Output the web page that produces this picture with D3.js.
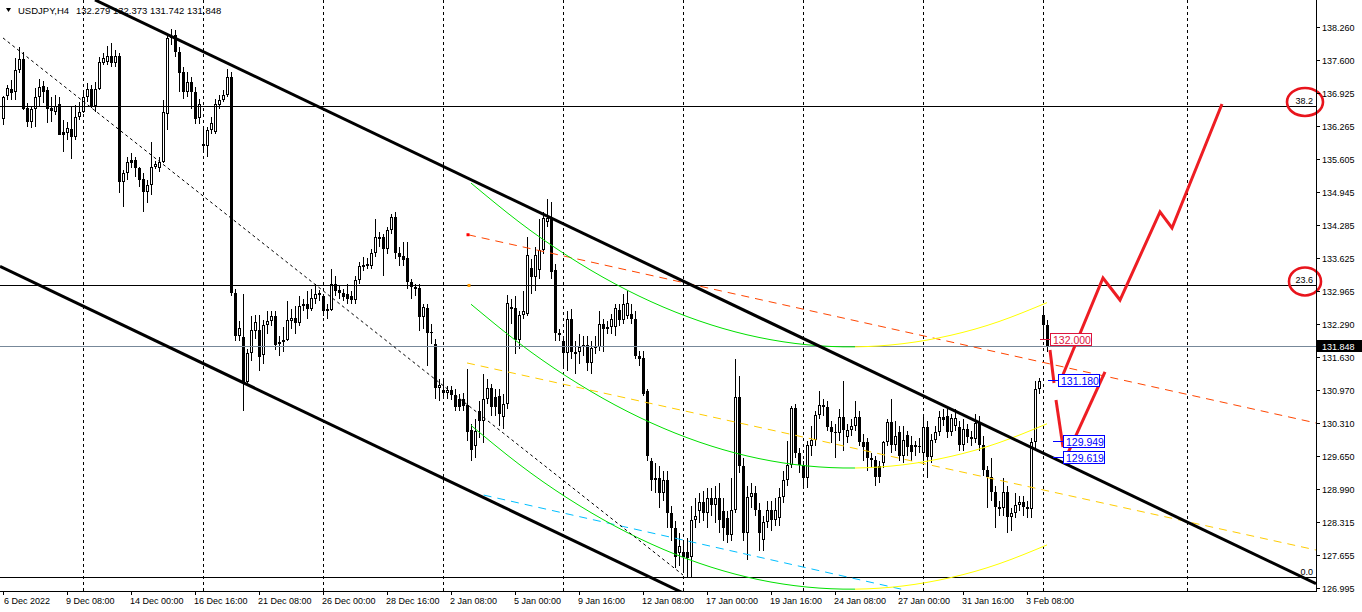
<!DOCTYPE html>
<html><head><meta charset="utf-8">
<script src="https://cdn.jsdelivr.net/npm/d3@7"></script>
<style>
html,body{margin:0;padding:0;background:#fff;}
svg{display:block;}
text{font-family:"Liberation Sans",Arial,sans-serif;}
</style></head><body>
<svg id="c" width="1362" height="612"></svg>
<script>
// ---------------- DATA ----------------
const symbolTitle = "USDJPY,H4";
const firstBarTime = "2022-12-06T16:00:00Z"; // H4 bars, weekends skipped
const open = [136.41,136.87,137.01,136.95,137.39,137.61,136.63,136.35,136.61,136.85,137.07,136.99,136.63,136.55,136.70,136.15,136.13,136.21,136.05,136.45,
136.55,136.85,137.01,136.67,137.01,137.53,137.55,137.67,137.53,137.67,135.15,135.33,135.59,135.59,135.43,135.21,134.95,135.09,135.45,135.43,
135.55,136.50,138.03,138.10,137.75,137.35,136.95,137.15,136.95,136.42,135.90,135.86,136.19,136.15,136.68,136.78,136.90,137.26,132.92,132.05,
132.04,131.14,131.72,132.15,132.18,131.68,132.28,132.35,132.45,131.90,131.93,131.98,132.35,132.42,132.32,132.66,132.70,132.60,132.80,132.88,
132.85,132.55,132.58,133.10,132.98,132.92,132.90,132.86,132.78,133.18,133.44,133.46,133.46,133.72,134.04,134.04,133.80,134.18,134.45,133.72,
133.66,133.62,133.14,133.04,133.02,132.44,132.62,132.12,131.90,131.02,130.97,130.92,130.97,130.88,130.80,130.80,130.67,130.17,129.85,130.55,
130.35,130.80,131.01,130.83,130.85,130.43,130.70,132.60,132.62,131.98,132.48,132.50,133.42,133.24,133.38,133.78,134.35,134.42,133.38,132.12,
131.95,131.72,132.40,131.74,131.74,131.84,131.88,131.52,131.82,131.84,132.30,132.20,132.24,132.24,132.58,132.38,132.45,132.50,132.40,131.65,
131.62,130.95,129.55,129.20,129.20,128.90,129.17,128.51,128.21,127.70,127.73,127.72,127.62,128.37,128.55,128.72,128.51,128.80,128.66,128.80,
128.55,128.40,128.07,128.57,130.83,129.45,128.10,128.83,128.90,128.56,127.96,128.33,128.56,128.37,128.40,128.83,129.17,129.47,130.61,129.71,
129.47,129.21,129.85,129.97,130.47,130.67,130.64,130.23,130.13,130.11,130.43,130.03,130.17,130.25,130.43,129.93,129.93,129.60,129.57,129.45,
129.50,129.93,130.33,129.87,130.13,129.65,130.07,129.87,129.87,129.83,129.70,130.23,129.63,129.97,130.13,130.43,130.45,130.13,130.25,130.23,
129.87,130.20,130.03,129.99,130.31,129.87,129.37,129.23,128.93,128.62,128.60,128.93,128.43,128.51,128.66,128.72,128.62,128.58,129.93,131.00,
132.48,132.279];
const high = [136.87,137.09,137.19,137.63,137.85,137.75,136.73,136.65,137.03,137.21,137.17,137.05,136.85,136.89,136.85,136.39,136.35,136.65,136.69,136.75,
136.95,137.13,137.09,137.15,137.65,137.73,137.87,137.93,137.79,137.73,135.39,135.65,135.73,135.65,135.45,135.33,135.19,135.95,135.57,135.65,
136.79,138.09,138.22,138.20,137.85,137.45,137.35,137.25,137.05,136.80,136.20,136.25,136.45,136.80,136.90,137.00,137.42,137.35,133.00,132.35,
132.90,131.80,132.45,132.48,132.48,132.38,132.55,132.55,132.55,132.05,132.24,132.75,132.60,132.65,132.85,132.80,132.95,133.00,133.10,132.98,
132.90,132.70,133.40,133.25,133.05,133.00,133.10,132.95,133.25,133.55,133.65,133.62,133.80,134.40,134.15,134.10,134.25,134.50,134.55,133.85,
133.95,133.95,133.20,133.10,133.10,132.70,132.70,132.30,132.00,131.20,131.20,131.05,131.05,131.00,130.90,130.92,131.40,130.30,130.40,130.75,
131.30,131.20,131.10,131.00,131.00,130.90,132.88,132.80,132.85,132.55,132.95,134.05,133.60,133.85,134.40,134.55,134.80,134.75,133.50,132.20,
132.05,132.55,132.60,131.95,132.10,132.05,132.05,131.95,132.05,132.55,132.40,132.35,132.50,132.70,132.70,132.90,132.95,132.70,132.55,131.75,
131.75,131.00,129.60,129.50,129.45,129.35,129.35,128.65,128.35,128.10,127.95,128.00,128.65,128.80,128.90,128.95,129.00,129.00,129.05,129.10,
128.80,128.55,129.20,131.60,131.25,129.60,129.05,129.10,129.05,128.70,128.45,128.75,128.75,128.80,129.00,129.35,129.95,130.65,130.70,129.80,
129.55,129.95,130.25,130.55,130.95,130.80,130.75,130.35,130.30,130.60,131.15,130.30,130.40,130.75,130.55,130.10,130.00,129.70,129.65,129.55,
129.95,130.40,130.80,130.35,130.25,130.25,130.15,130.05,129.95,130.00,130.45,130.35,130.10,130.25,130.55,130.60,130.60,130.50,130.60,130.35,
130.40,130.30,130.15,130.50,130.45,130.05,129.45,129.60,129.05,128.75,129.20,129.05,128.60,128.90,128.85,128.85,128.75,130.00,131.15,131.22,
132.62,132.373];
const low = [136.29,136.79,136.79,136.79,137.33,136.59,136.25,136.23,136.25,136.65,136.73,136.33,136.35,136.49,136.09,135.75,135.99,135.61,135.99,136.39,
136.53,136.75,136.63,136.55,136.99,137.49,137.49,137.45,137.45,134.93,134.65,135.19,135.43,135.25,135.05,134.55,134.73,134.89,135.41,135.35,
135.53,136.19,137.90,137.65,136.95,136.80,136.85,136.60,136.30,136.30,135.75,135.65,136.10,136.10,136.60,136.75,136.85,132.85,131.95,131.95,
130.55,131.10,131.55,132.00,131.35,131.50,132.10,132.25,131.78,131.65,131.74,131.95,132.20,132.10,132.25,132.55,132.40,132.55,132.70,132.75,
132.45,132.40,132.55,132.85,132.80,132.75,132.70,132.70,132.70,133.10,133.35,133.40,133.40,133.65,133.85,133.25,133.70,134.10,133.60,133.45,
133.45,133.00,132.80,132.85,132.15,132.20,131.45,131.90,130.80,130.75,130.80,130.80,130.78,130.55,130.55,130.55,129.95,129.55,129.60,130.00,
129.90,130.70,130.45,130.45,130.25,130.20,130.60,132.30,131.70,131.80,132.40,132.45,132.90,132.95,133.20,133.70,134.25,133.20,131.95,131.95,
131.40,131.35,131.60,131.30,131.50,131.65,131.35,131.30,131.70,131.75,131.74,132.10,132.10,132.05,132.25,132.30,132.40,132.30,131.60,131.45,
130.85,129.55,128.95,128.90,128.60,128.75,128.20,127.95,127.40,127.45,127.35,127.20,127.20,128.20,128.30,128.35,128.20,128.45,128.30,128.10,
127.95,127.90,127.95,128.50,129.30,127.95,127.56,128.60,128.45,127.75,127.75,128.20,128.15,128.25,128.25,128.70,129.05,129.40,129.60,129.30,
129.00,129.00,129.65,129.85,130.40,130.45,130.15,129.90,129.60,129.95,129.75,129.90,130.05,130.15,129.85,129.55,129.35,129.40,129.05,129.10,
129.40,129.85,129.70,129.75,129.55,129.50,129.65,129.55,129.65,129.70,129.55,129.20,129.50,129.90,130.05,130.25,130.00,130.05,130.15,129.75,
129.75,129.90,129.85,129.90,129.75,129.25,128.60,128.75,128.20,128.45,128.45,128.10,128.15,128.40,128.55,128.45,128.40,128.40,129.80,130.90,
131.98,131.742];
const close = [136.85,137.03,136.93,137.39,137.61,136.61,136.35,136.61,136.85,137.05,136.95,136.61,136.57,136.67,136.09,136.09,136.23,136.05,136.45,136.55,
136.85,137.01,136.65,137.01,137.55,137.63,137.67,137.53,137.67,135.15,135.33,135.55,135.53,135.43,135.19,134.95,135.09,135.45,135.51,135.55,
136.55,138.03,138.08,137.75,137.33,136.95,137.15,136.95,136.40,136.70,135.86,136.19,136.33,136.70,136.79,136.90,137.26,132.92,132.06,132.22,
131.14,131.72,132.18,132.33,131.64,132.28,132.35,132.45,131.87,131.94,131.98,132.38,132.42,132.32,132.66,132.70,132.60,132.82,132.90,132.92,
132.55,132.60,133.10,132.96,132.92,132.84,132.80,132.78,133.18,133.46,133.48,133.50,133.72,134.04,134.00,133.80,134.18,134.45,133.72,133.64,
133.58,133.14,133.04,133.00,132.44,132.64,132.12,132.14,131.02,131.08,130.92,130.97,130.88,130.64,130.64,130.66,130.13,129.77,130.15,130.35,
130.80,131.01,130.63,130.63,130.50,130.70,132.72,132.64,131.98,132.48,132.55,133.68,133.24,133.68,133.78,134.42,134.42,133.34,132.12,132.08,
131.72,132.40,131.74,131.70,131.84,131.88,131.52,131.82,131.86,132.30,132.20,132.24,132.40,132.62,132.38,132.70,132.72,132.40,131.65,131.60,
130.90,129.65,129.17,129.17,128.90,129.17,128.51,128.21,127.62,127.85,127.62,127.60,128.37,128.45,128.72,128.51,128.80,128.66,128.80,128.37,
128.21,128.07,128.57,130.83,129.45,128.10,128.83,128.90,128.56,128.10,128.33,128.56,128.37,128.56,128.83,129.17,129.47,130.61,129.71,129.47,
129.21,129.87,129.97,130.47,130.67,130.64,130.23,130.13,130.11,130.43,130.17,130.17,130.25,130.43,129.93,129.83,129.60,129.57,129.23,129.23,
129.93,130.33,129.87,130.05,129.65,129.97,129.83,129.73,129.83,129.85,130.23,129.63,129.97,130.13,130.43,130.38,130.13,130.41,130.41,129.87,
130.20,130.03,129.99,130.31,129.87,129.37,129.23,128.93,128.62,128.58,128.93,128.43,128.51,128.66,128.72,128.62,128.58,129.93,131.00,131.16,
132.28,131.848];

const priceTicks = ["138.260","137.600","136.925","136.265","135.605","134.945","134.285","133.625","132.965","132.290","131.630","130.970","130.310","129.650","128.990","128.315","127.655","126.995"];
const timeLabels = ["6 Dec 2022","9 Dec 08:00","14 Dec 00:00","16 Dec 16:00","21 Dec 08:00","26 Dec 00:00","28 Dec 16:00","2 Jan 08:00","5 Jan 00:00","9 Jan 16:00","12 Jan 08:00","17 Jan 00:00","19 Jan 16:00","24 Jan 08:00","27 Jan 00:00","31 Jan 16:00","3 Feb 08:00"];

// Fibonacci levels
const fibLevels = ["0.0","23.6","38.2"];
const fibPrices = [127.22, 133.07, 136.67];
const circledFib = ["23.6","38.2"];

// trend / channel lines as [bar, price] pairs
const trendUpper = [[23,138.797],[328.25,127.089]];
const trendLower = [[-0.75,133.452],[170.25,126.893]];
const trendThin  = [[0,138.034],[170,127.262]];
// linear regression channel
const regUpper = [[116.25,134.087],[328.25,130.311]];
const regMid   = [[116,131.515],[328.25,127.763]];
const regLower = [[116.75,128.927],[225.5,126.961]];
// polynomial regression channel (middle line) and half-width
const polyMid = [[117,132.693],[129,131.914],[141,131.240],[153,130.672],[165,130.209],[177,129.850],[189,129.597],[201,129.450],[213,129.408],[225,129.472],[237,129.641],[249,129.916],[261,130.295]];
const polyTurnBar = 213;
const polyBand = 2.43;

// hand-drawn forecast strokes [bar, price]
const forecastA = [[261.75,131.775],[262.75,131.113]];
const forecastB = [[264.75,131.234],[275,133.220],[279.25,132.778],[289.25,134.544],[292.25,134.223],[304.75,136.710]];
const forecastC = [[263.25,130.772],[265,129.829]];
const forecastD = [[266.25,129.709],[275.5,131.334]];

// price labels
const priceLabelValues = [132.000, 131.180, 129.949, 129.619];
const priceLabelBars   = [259.25, 261.25, 262.5, 262.5];
const priceLabelColors = ["#dc143c","#0000ff","#0000ff","#0000ff"];

// ---------------- DRAW ----------------
const N = close.length;
const W = 1316, H = 591;
const svg = d3.select("#c");
const x = d3.scaleLinear().domain([0, N-1]).range([3, 3 + 4*(N-1)]);
const y = d3.scaleLinear().domain([126.995, 138.26]).range([588.3, 26.7]);

// bar times
const H4 = 4*3600*1000;
const times = [];
{
  let t = Date.parse(firstBarTime);
  while (times.length < N) {
    const d = new Date(t).getUTCDay();
    if (d !== 0 && d !== 6) times.push(t);
    t += H4;
  }
  const last = times[N-1];
  for (let k = 1; k <= 90; k++) times.push(last + k*H4);
}

const defs = svg.append("defs");
defs.append("clipPath").attr("id","plot").append("rect").attr("x",0).attr("y",0).attr("width",W).attr("height",H);
defs.append("clipPath").attr("id","descend").append("rect").attr("x",0).attr("y",0).attr("width",x(polyTurnBar)).attr("height",H);
defs.append("clipPath").attr("id","ascend").append("rect").attr("x",x(polyTurnBar)).attr("y",0).attr("width",W-x(polyTurnBar)).attr("height",H);

const plot = svg.append("g").attr("clip-path","url(#plot)");

// weekly grid (dashed)
const gridIdx = [];
for (let j = 1; j < times.length; j++) {
  if (+d3.utcSunday.floor(new Date(times[j])) > +d3.utcSunday.floor(new Date(times[j-1]))) gridIdx.push(j);
}
plot.selectAll("line.grid").data(gridIdx).join("line")
  .attr("x1", d => Math.round(x(d))+0.5).attr("x2", d => Math.round(x(d))+0.5)
  .attr("y1", 0).attr("y2", H)
  .attr("stroke","#000").attr("stroke-width",1).attr("stroke-dasharray","3,3");

// candles
const cg = plot.append("g").attr("shape-rendering","crispEdges");
for (let i = 0; i < N; i++) {
  const cx = Math.round(x(i));
  const yh = Math.round(y(high[i])), yl = Math.round(y(low[i]));
  cg.append("rect").attr("x",cx).attr("y",yh).attr("width",1).attr("height",Math.max(1,yl-yh)).attr("fill","#000");
  const top = Math.round(y(Math.max(open[i],close[i])));
  const bot = Math.round(y(Math.min(open[i],close[i])));
  const h = Math.max(1, bot-top);
  cg.append("rect").attr("x",cx-1).attr("y",top).attr("width",3).attr("height",h).attr("fill","#000");
  if (close[i] > open[i] && h > 2) {
    cg.append("rect").attr("x",cx).attr("y",top+1).attr("width",1).attr("height",h-2).attr("fill","#fff");
  }
}

// horizontal fib lines
plot.selectAll("line.fib").data(fibPrices).join("line")
  .attr("x1",0).attr("x2",W).attr("y1",d=>Math.round(y(d))+0.5).attr("y2",d=>Math.round(y(d))+0.5)
  .attr("stroke","#000").attr("stroke-width",1);

// bid line
plot.append("line").attr("x1",0).attr("x2",W)
  .attr("y1",Math.round(y(close[N-1]))+0.5).attr("y2",Math.round(y(close[N-1]))+0.5)
  .attr("stroke","#778899").attr("stroke-width",1);

const line = d3.line().x(d=>x(d[0])).y(d=>y(d[1]));

// regression straight channel
plot.append("path").attr("d",line(regUpper)).attr("fill","none").attr("stroke","#ff4500").attr("stroke-width",1).attr("stroke-dasharray","8,6");
plot.append("path").attr("d",line(regMid)).attr("fill","none").attr("stroke","#ffcc00").attr("stroke-width",1).attr("stroke-dasharray","8,6");
plot.append("path").attr("d",line(regLower)).attr("fill","none").attr("stroke","#00bfff").attr("stroke-width",1).attr("stroke-dasharray","8,6");

// polynomial channel curves
const curve = d3.line().x(d=>x(d[0])).y(d=>y(d[1])).curve(d3.curveNatural);
[0, polyBand, -polyBand].forEach(off => {
  const pts = polyMid.map(p => [p[0], p[1]+off]);
  plot.append("g").attr("clip-path","url(#descend)").append("path").attr("d",curve(pts))
    .attr("fill","none").attr("stroke","#00e000").attr("stroke-width",1);
  plot.append("g").attr("clip-path","url(#ascend)").append("path").attr("d",curve(pts))
    .attr("fill","none").attr("stroke","#ffff00").attr("stroke-width",1);
});

// trend lines
plot.append("path").attr("d",line(trendThin)).attr("fill","none").attr("stroke","#000").attr("stroke-width",1).attr("stroke-dasharray","3,3");
plot.append("path").attr("d",line(trendUpper)).attr("fill","none").attr("stroke","#000").attr("stroke-width",3);
plot.append("path").attr("d",line(trendLower)).attr("fill","none").attr("stroke","#000").attr("stroke-width",3);

// anchor dots
plot.append("rect").attr("x",x(regUpper[0][0])-1.5).attr("y",y(regUpper[0][1])-1.5).attr("width",3).attr("height",3).attr("fill","#ff0000");
plot.append("rect").attr("x",x(116.5)-1.5).attr("y",y(fibPrices[1])-1.5).attr("width",3).attr("height",3).attr("fill","#ff9900");

// forecast strokes
[forecastA, forecastB, forecastC, forecastD].forEach(seg => {
  plot.append("path").attr("d",line(seg)).attr("fill","none").attr("stroke","#ee1d23")
    .attr("stroke-width",3).attr("stroke-linejoin","miter").attr("stroke-linecap","butt");
});

// price labels
priceLabelValues.forEach((v,k) => {
  const ax = Math.round(x(priceLabelBars[k])), ay = Math.round(y(v));
  const col = priceLabelColors[k];
  plot.append("line").attr("x1",ax).attr("x2",ax+10).attr("y1",ay+0.5).attr("y2",ay+0.5).attr("stroke",col).attr("stroke-width",1);
  const txt = v.toFixed(3);
  plot.append("rect").attr("x",ax+10.5).attr("y",ay-5.5).attr("width",41).attr("height",12)
    .attr("fill","#fff").attr("stroke",col).attr("stroke-width",1);
  plot.append("text").attr("x",ax+13).attr("y",ay+4.5).attr("font-size",10.5).attr("fill",col).text(txt);
});

// fib labels
fibLevels.forEach((lab,k) => {
  plot.append("text").attr("x",1313).attr("y",Math.round(y(fibPrices[k]))-2)
    .attr("text-anchor","end").attr("font-size",9).attr("fill","#000").text(lab);
});
// circles around levels
circledFib.forEach(lab => {
  const k = fibLevels.indexOf(lab);
  const cy = y(fibPrices[k]) - 4;
  svg.append("ellipse").attr("cx",1305).attr("cy",cy).attr("rx",lab==="38.2"?18:16).attr("ry",14)
    .attr("fill","none").attr("stroke","#e8141c").attr("stroke-width",2.6);
});

// frame
svg.append("line").attr("x1",W+0.5).attr("x2",W+0.5).attr("y1",0).attr("y2",H+1).attr("stroke","#000");
svg.append("line").attr("x1",0).attr("x2",W+1).attr("y1",H+0.5).attr("y2",H+0.5).attr("stroke","#000");

// price axis
priceTicks.forEach(s => {
  const v = +s, ty = Math.round(y(v));
  svg.append("line").attr("x1",W).attr("x2",W+4).attr("y1",ty+0.5).attr("y2",ty+0.5).attr("stroke","#000");
  svg.append("text").attr("x",1322).attr("y",ty+3.5).attr("font-size",9).attr("fill","#000").text(s);
});
// current price label
{
  const ty = Math.round(y(close[N-1]));
  svg.append("rect").attr("x",W+1).attr("y",ty-6).attr("width",45).attr("height",12).attr("fill","#000");
  svg.append("text").attr("x",1322).attr("y",ty+3.5).attr("font-size",9).attr("fill","#fff").text(close[N-1].toFixed(3));
}

// time axis
const fmtDate = d3.utcFormat("%-d %b %Y"), fmtTime = d3.utcFormat("%-d %b %H:%M");
timeLabels.forEach((lab,k) => {
  let idx = -1;
  for (let i = 0; i < N; i++) {
    const t = new Date(times[i]);
    if ((k === 0 && fmtDate(t) === lab) || fmtTime(t) === lab) { idx = i; break; }
  }
  if (idx < 0) return;
  const tx = Math.round(x(idx));
  svg.append("line").attr("x1",tx+0.5).attr("x2",tx+0.5).attr("y1",H).attr("y2",H+4).attr("stroke","#000");
  svg.append("text").attr("x",k===0?tx+1:tx-1).attr("y",604).attr("font-size",9).attr("fill","#000").text(lab);
});

// header
svg.append("path").attr("d","M6,8 L11,8 L8.5,12 Z").attr("fill","#000");
svg.append("text").attr("x",18).attr("y",14).attr("font-size",9.5).attr("fill","#000").text(symbolTitle);
svg.append("text").attr("x",76).attr("y",14).attr("font-size",9.5).attr("fill","#000")
  .text([open[N-1],high[N-1],low[N-1],close[N-1]].map(v=>v.toFixed(3)).join(" "));
</script>
</body></html>
